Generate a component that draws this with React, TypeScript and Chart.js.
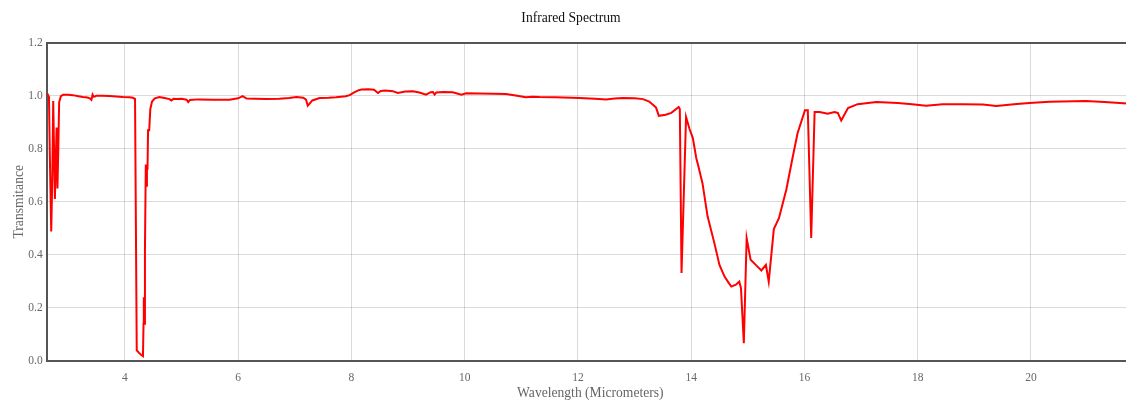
import React, { useEffect, useRef } from "react";
import { Chart, registerables } from "chart.js";

Chart.register(...registerables);

// Wavelength samples (micrometers) and matching transmittance readings.
const wavelengths: number[] = [
  2.62, 2.64, 2.66, 2.68, 2.7, 2.72, 2.735, 2.75, 2.765, 2.78, 2.795, 2.81, 2.825, 2.84, 2.87, 2.91,
  3.0, 3.08, 3.18, 3.26, 3.34, 3.38, 3.41, 3.43, 3.45, 3.47, 3.5, 3.6, 3.73, 3.85, 3.97, 4.08,
  4.14, 4.18, 4.21, 4.25, 4.29, 4.32, 4.33, 4.335, 4.34, 4.355, 4.37, 4.38, 4.39, 4.4, 4.41, 4.43,
  4.45, 4.48, 4.53, 4.61, 4.7, 4.79, 4.82, 4.86, 4.91, 5.0, 5.09, 5.12, 5.15, 5.3, 5.56, 5.85,
  6.0, 6.08, 6.15, 6.3, 6.5, 6.73, 6.9, 7.03, 7.15, 7.2, 7.23, 7.27, 7.31, 7.44, 7.6, 7.73,
  7.9, 7.97, 8.05, 8.12, 8.18, 8.3, 8.4, 8.47, 8.52, 8.6, 8.73, 8.82, 8.95, 9.09, 9.2, 9.32,
  9.4, 9.44, 9.47, 9.5, 9.62, 9.79, 9.9, 9.94, 10.03, 10.26, 10.5, 10.73, 10.9, 11.08, 11.2, 11.32,
  11.6, 12.03, 12.3, 12.5, 12.65, 12.79, 13.0, 13.15, 13.26, 13.33, 13.38, 13.43, 13.55, 13.65, 13.78, 13.8,
  13.83, 13.91, 13.97, 14.03, 14.09, 14.12, 14.2, 14.29, 14.41, 14.5, 14.59, 14.66, 14.71, 14.79, 14.85, 14.88,
  14.93, 14.98, 15.05, 15.15, 15.24, 15.32, 15.37, 15.46, 15.55, 15.68, 15.79, 15.88, 16.01, 16.06, 16.12, 16.18,
  16.27, 16.41, 16.53, 16.59, 16.65, 16.77, 16.94, 17.27, 17.65, 17.9, 18.15, 18.44, 18.8, 19.15, 19.39, 19.7,
  19.97, 20.33, 20.97, 21.3, 21.7, 21.82,
];

const transmittance: number[] = [
  1.0, 1.004, 0.995, 0.72, 0.488, 0.7, 0.98, 0.8, 0.61, 0.75, 0.88, 0.65, 0.8, 0.975, 0.998, 1.003,
  1.003, 1.002, 0.998, 0.995, 0.993, 0.99, 0.984, 1.004, 0.996, 0.997, 1.0, 1.0, 0.999, 0.997, 0.995, 0.994,
  0.992, 0.988, 0.04, 0.03, 0.022, 0.018, 0.14, 0.24, 0.14, 0.42, 0.74, 0.66, 0.74, 0.72, 0.87, 0.87,
  0.95, 0.978, 0.99, 0.995, 0.991, 0.987, 0.982, 0.988, 0.987, 0.988, 0.985, 0.976, 0.984, 0.986, 0.985, 0.985,
  0.99, 0.998, 0.989, 0.988, 0.987, 0.988, 0.991, 0.995, 0.992, 0.985, 0.962, 0.972, 0.982, 0.991, 0.992, 0.994,
  0.998, 1.002, 1.012, 1.02, 1.023, 1.024, 1.022, 1.01, 1.018, 1.019, 1.017, 1.01, 1.016, 1.017, 1.012, 1.004,
  1.013, 1.014, 1.004, 1.012, 1.014, 1.013, 1.006, 1.004, 1.009, 1.008, 1.007, 1.006, 1.001, 0.994, 0.996, 0.995,
  0.994, 0.991, 0.988, 0.986, 0.989, 0.991, 0.99, 0.987, 0.978, 0.965, 0.955, 0.924, 0.928, 0.935, 0.957, 0.95,
  0.331, 0.92, 0.875, 0.84, 0.765, 0.74, 0.67, 0.545, 0.444, 0.362, 0.318, 0.295, 0.28, 0.287, 0.299, 0.274,
  0.067, 0.463, 0.381, 0.36, 0.341, 0.362, 0.299, 0.497, 0.538, 0.645, 0.765, 0.859, 0.945, 0.945, 0.463, 0.938,
  0.938, 0.932, 0.938, 0.935, 0.906, 0.953, 0.968, 0.976, 0.972, 0.968, 0.962, 0.968, 0.968, 0.967, 0.961, 0.968,
  0.972, 0.977, 0.98, 0.976, 0.97, 0.969,
];

const xRange = { min: 2.62, max: 21.82, step: 2 };
const yRange = { min: 0, max: 1.2, step: 0.2 };

const FONT = "'Times New Roman', 'Liberation Serif', serif";
const AXIS_DARK = "#555";
const GRID = "rgba(0,0,0,0.14)";

export default function App() {
  const canvasRef = useRef<HTMLCanvasElement | null>(null);

  useEffect(() => {
    const canvas = canvasRef.current;
    if (!canvas) return;
    const points = wavelengths.map((w, i) => ({ x: w, y: transmittance[i] }));
    const chart = new Chart(canvas, {
      type: "line",
      data: {
        datasets: [
          {
            label: "Transmitance",
            data: points,
            borderColor: "#ff0000",
            borderWidth: 2,
            pointRadius: 0,
            tension: 0,
            fill: false,
          },
        ],
      },
      options: {
        animation: false,
        responsive: true,
        maintainAspectRatio: false,
        layout: { padding: 0 },
        plugins: {
          legend: { display: false },
          tooltip: { enabled: false },
          title: {
            display: true,
            text: "Infrared Spectrum",
            color: "#111",
            font: { family: FONT, size: 13.6, weight: "normal" },
            padding: { top: 10, bottom: 16.3 },
          },
        },
        scales: {
          x: {
            type: "linear",
            min: xRange.min,
            max: xRange.max,
            border: { color: AXIS_DARK, width: 2 },
            grid: { color: GRID, drawTicks: false },
            ticks: {
              stepSize: xRange.step,
              includeBounds: false,
              padding: 10,
              color: "#666",
              font: { family: FONT, size: 11.5 },
              maxRotation: 0,
            },
            title: {
              display: true,
              text: "Wavelength (Micrometers)",
              color: "#666",
              font: { family: FONT, size: 13.6 },
              padding: { top: -9, bottom: -2 },
            },
          },
          y: {
            type: "linear",
            min: yRange.min,
            max: yRange.max,
            border: { color: AXIS_DARK, width: 2 },
            grid: {
              drawTicks: false,
              color: (ctx: any) =>
                ctx.tick && Math.abs(ctx.tick.value - yRange.max) < 1e-6 ? AXIS_DARK : GRID,
              lineWidth: (ctx: any) =>
                ctx.tick && Math.abs(ctx.tick.value - yRange.max) < 1e-6 ? 2 : 1,
            },
            ticks: {
              stepSize: yRange.step,
              padding: 4,
              color: "#666",
              font: { family: FONT, size: 11.5 },
              callback: (v: any) => Number(v).toFixed(1),
            },
            title: {
              display: true,
              text: "Transmitance",
              color: "#666",
              font: { family: FONT, size: 13.6 },
              padding: { top: 3, bottom: -3 },
            },
          },
        },
      },
    });
    return () => chart.destroy();
  }, []);

  return (
    <div style={{ position: "fixed", left: 8, top: 0, width: 1126, height: 400, background: "#fff" }}>
      <canvas ref={canvasRef} />
    </div>
  );
}
